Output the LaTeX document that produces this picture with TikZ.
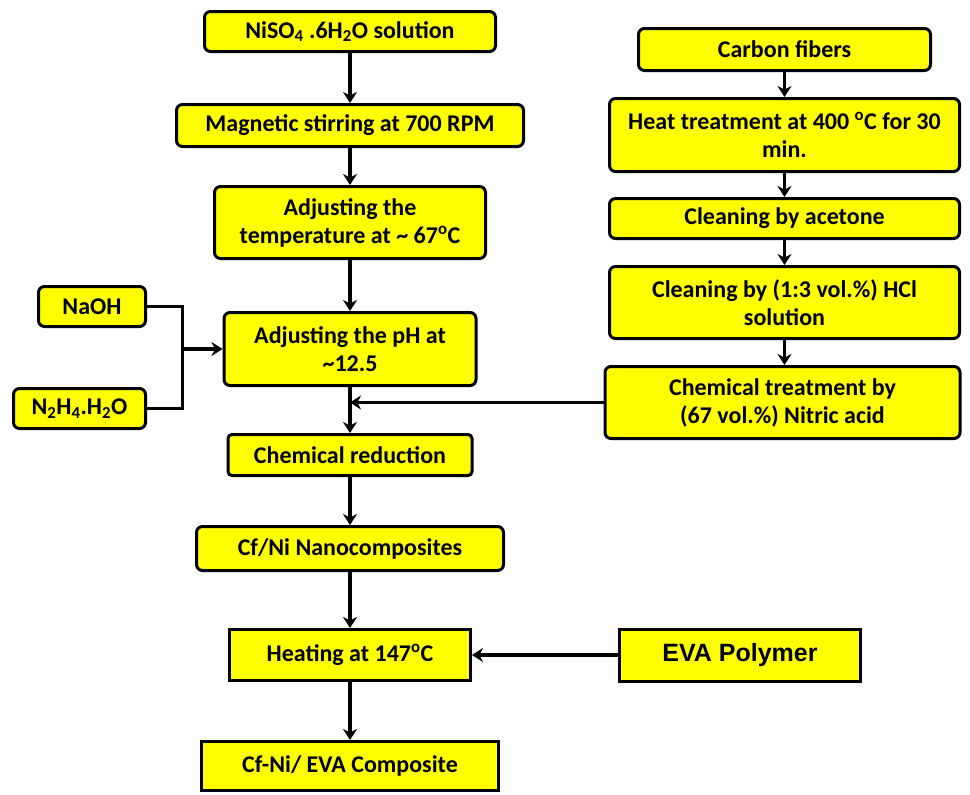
\documentclass[tikz,border=0pt]{standalone}
\usepackage{fontspec}
\setmainfont{Carlito}
\newfontfamily\arialfont{Liberation Sans}
\usetikzlibrary{arrows.meta,positioning,calc}
\definecolor{stepfill}{HTML}{FFFF00}
\definecolor{ink}{HTML}{000000}
\tikzset{
  >={Stealth[length=11pt,width=14pt]},
  every node/.style={font=\fontsize{24}{28}\selectfont\bfseries,text=ink},
  box/.style={draw=ink,line width=3pt,rounded corners=6pt,fill=stepfill,align=center,inner sep=2pt},
  flatbox/.style={box,rounded corners=0pt},
  arrow/.style={->,line width=3.5pt,draw=ink},
  feed/.style={line width=3.5pt,draw=ink},
}

\begin{document}
\begin{tikzpicture}[x=1pt,y=-1pt]
\useasboundingbox (0,0) rectangle (970,795);

% nickel route
\node[box,minimum width=291pt,minimum height=40pt] (nis) at (350,31.5)
{NiSO\textsubscript{4} .6H\textsubscript{2}O solution};
\node[box,minimum width=347pt,minimum height=42pt,below=50pt of nis] (stir)
{Magnetic stirring at 700 RPM};
\node[box,minimum width=271pt,minimum height=72pt,below=37pt of stir] (temp)
{Adjusting the\\temperature at \textasciitilde{} 67\textsuperscript{o}C};
\node[box,minimum width=252pt,minimum height=73pt,below=51pt of temp] (ph)
{Adjusting the pH at\\\textasciitilde12.5};
\node[box,rounded corners=4pt,minimum width=244pt,minimum height=41pt,below=46pt of ph] (redn)
{Chemical reduction};
\node[box,minimum width=307pt,minimum height=44pt,below=48pt of redn] (cfni)
{Cf/Ni Nanocomposites};
\node[flatbox,minimum width=241pt,minimum height=51pt,below=56pt of cfni] (heat)
{Heating at 147\textsuperscript{o}C};
\node[flatbox,minimum width=297pt,minimum height=49pt,below=58pt of heat] (comp)
{Cf-Ni/ EVA Composite};

% reagents
\node[box,minimum width=107pt,minimum height=40pt] (naoh) at (92,306.5) {NaOH};
\node[box,minimum width=132pt,minimum height=40pt] (hyd) at (79.5,408.5)
{N\textsubscript{2}H\textsubscript{4}.H\textsubscript{2}O};
\coordinate (join) at ($(ph.west)+(-40pt,0)$);

% fibre route
\node[box,minimum width=292pt,minimum height=42pt] (fiber) at (784.5,49.5) {Carbon fibers};
\node[box,minimum width=350pt,minimum height=73pt,below=25pt of fiber] (anneal)
{Heat treatment at 400 \textsuperscript{o}C for 30\\min.};
\node[box,minimum width=350pt,minimum height=40pt,below=24pt of anneal] (acetone)
{Cleaning by acetone};
\node[box,minimum width=350pt,minimum height=72pt,below=25pt of acetone] (hcl)
{Cleaning by (1:3 vol.\%) HCl\\solution};
\node[box,minimum width=355pt,minimum height=72pt,below=25pt of hcl,xshift=-2pt] (nitric)
{Chemical treatment by\\(67 vol.\%) Nitric acid};

\node[flatbox,minimum width=241pt,minimum height=52pt,right=146pt of heat,
  font=\arialfont\fontsize{25}{30}\selectfont\bfseries] (eva) {EVA Polymer};

\draw[arrow] (nis) -- (stir);
\draw[arrow] (stir) -- (temp);
\draw[arrow] (temp) -- (ph);
\draw[arrow] (ph) -- (redn);
\draw[arrow] (redn) -- (cfni);
\draw[arrow] (cfni) -- (heat);
\draw[arrow] (heat) -- (comp);

\draw[feed] (naoh.east) -| (join) |- (hyd.east);
\draw[arrow] (join) -- (ph.west);

\draw[arrow] (fiber) -- (anneal);
\draw[arrow] (anneal) -- (acetone);
\draw[arrow] (acetone) -- (hcl);
\draw[arrow] (hcl) -- (hcl.south |- nitric.north);
\draw[arrow] (nitric.west) -- (nitric.west -| ph.south);

\draw[arrow] (eva) -- (heat);

\end{tikzpicture}
\end{document}
